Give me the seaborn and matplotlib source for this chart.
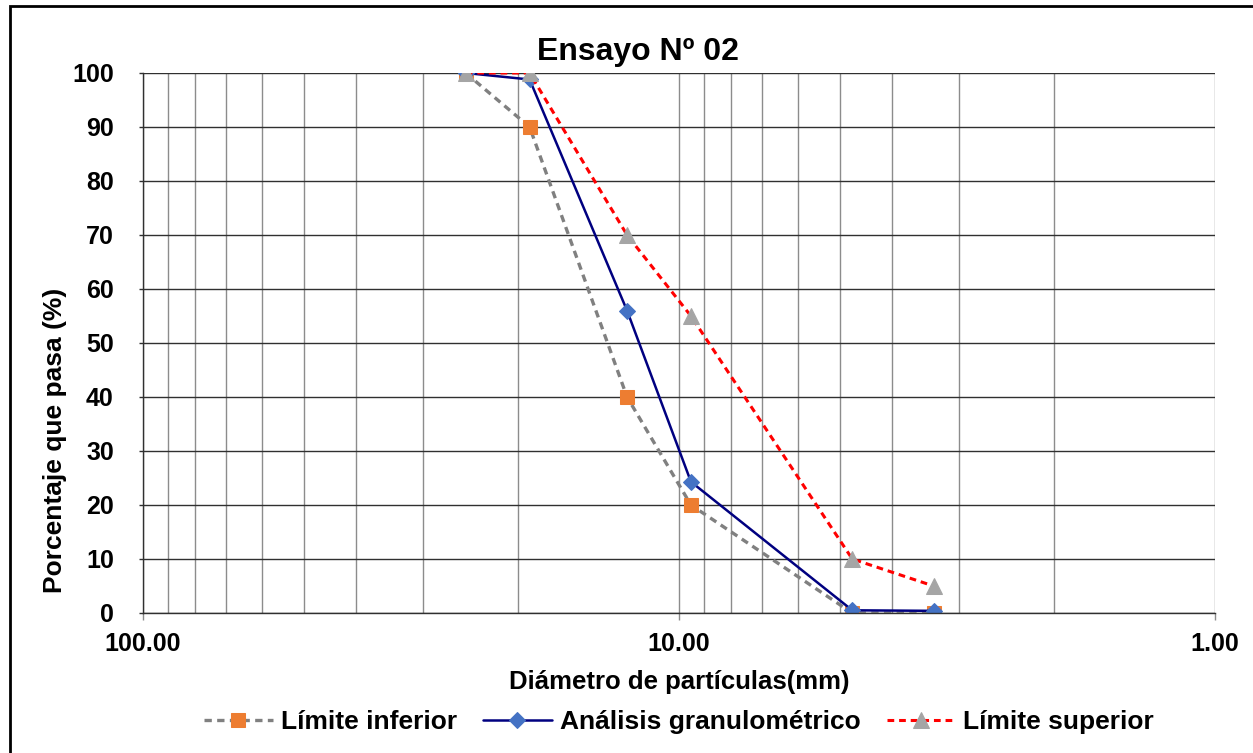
import matplotlib
matplotlib.use("Agg")
import matplotlib.pyplot as plt
import matplotlib.patches as mpatches
from matplotlib.ticker import FixedLocator, FixedFormatter, NullFormatter
import seaborn as sns
import pandas as pd

# ---- data ----
diametros = [25.0, 19.0, 12.5, 9.5, 4.75, 3.35]
limite_inferior = [100, 90, 40, 20, 0, 0]
analisis = [100, 98.8, 56, 24.3, 0.5, 0.4]
limite_superior = [100, 100, 70, 55, 10, 5]
series_names = ["Límite inferior", "Análisis granulométrico", "Límite superior"]
titulo = "Ensayo Nº 02"
xlabel = "Diámetro de partículas(mm)"
ylabel = "Porcentaje que pasa (%)"
x_major = [100, 10, 1]
x_major_labels = ["100.00", "10.00", "1.00"]

sns.set_theme(style="white")
plt.rcParams["font.family"] = ["Liberation Sans", "DejaVu Sans"]
plt.rcParams["font.weight"] = "bold"

df = pd.DataFrame({
    "d": diametros * 3,
    "p": limite_inferior + analisis + limite_superior,
    "serie": [series_names[0]] * 6 + [series_names[1]] * 6 + [series_names[2]] * 6,
})

fig = plt.figure(figsize=(12.53, 7.53), dpi=100)
ax = fig.add_axes([143 / 1253, 1 - 613 / 753, (1215 - 143) / 1253, (613 - 73) / 753])

styles = {
    series_names[0]: dict(color="#808080", ls=(0, (2.2, 1.6)), lw=2.4, marker="s",
                          mfc="#ED7D31", mec="#ED7D31", ms=10.5),
    series_names[1]: dict(color="#000080", ls="-", lw=1.8, marker="D",
                          mfc="#4472C4", mec="#4472C4", ms=8.5),
    series_names[2]: dict(color="#FF0000", ls=(0, (2.2, 1.6)), lw=2.2, marker="^",
                          mfc="#A5A5A5", mec="#A5A5A5", ms=11),
}
for name in series_names:
    st = styles[name]
    sub = df[df["serie"] == name]
    sns.lineplot(data=sub, x="d", y="p", ax=ax, color=st["color"], linestyle=st["ls"],
                 linewidth=st["lw"], marker=st["marker"], markerfacecolor=st["mfc"],
                 markeredgecolor=st["mec"], markersize=st["ms"], label=name,
                 sort=False, estimator=None, legend=False)

ax.set_xscale("log")
ax.set_xlim(100, 1)
ax.set_ylim(0, 100)
ax.set_yticks(range(0, 101, 10))
ax.xaxis.set_major_locator(FixedLocator(x_major))
ax.xaxis.set_major_formatter(FixedFormatter(x_major_labels))
minors = [m * 10 ** e for e in (0, 1) for m in range(2, 10)]
ax.xaxis.set_minor_locator(FixedLocator(minors))
ax.xaxis.set_minor_formatter(NullFormatter())

ax.grid(True, which="major", axis="y", color="#303030", lw=1.0)
ax.grid(True, which="both", axis="x", color="#8C8C8C", lw=1.0)
ax.set_axisbelow(True)
for s in ["top", "right"]:
    ax.spines[s].set_visible(False)
ax.spines["left"].set_color("#303030")
ax.spines["bottom"].set_color("#303030")
ax.spines["left"].set_linewidth(1.0)
ax.spines["bottom"].set_linewidth(1.0)

ax.tick_params(axis="x", which="major", direction="out", length=5, width=1,
               color="#8C8C8C", labelsize=18, pad=9, bottom=True)
ax.tick_params(axis="x", which="minor", length=0)
ax.tick_params(axis="y", which="major", direction="out", length=3, width=1,
               color="#303030", labelsize=18, pad=18, left=True)
for lab in ax.get_xticklabels() + ax.get_yticklabels():
    lab.set_fontweight("bold")
    lab.set_color("black")

ax.set_xlabel(xlabel, fontsize=18.5, fontweight="bold", labelpad=10, color="black")
ax.set_ylabel("")
fig.text(55 / 1253, 1 - 440 / 753, ylabel, fontsize=19, fontweight="bold",
         rotation=90, ha="center", va="center", color="black")
fig.text(638 / 1253, 1 - 52 / 753, titulo, fontsize=23, fontweight="bold",
         ha="center", va="center", color="black")

handles, labels = ax.get_legend_handles_labels()
leg = fig.legend(handles, labels, loc="center", bbox_to_anchor=(679 / 1253, 1 - 722 / 753),
                 ncol=3, frameon=False, handlelength=2.6, columnspacing=1.0,
                 handletextpad=0.3, prop={"weight": "bold", "size": 19},
                 labelcolor="black")

fig.patches.append(mpatches.Rectangle((10 / 1253, -0.01), 1.05, 1 - 6 / 753 + 0.01,
                                      transform=fig.transFigure, fill=False,
                                      edgecolor="black", linewidth=2, zorder=10))

fig.savefig("out.png", dpi=100)
